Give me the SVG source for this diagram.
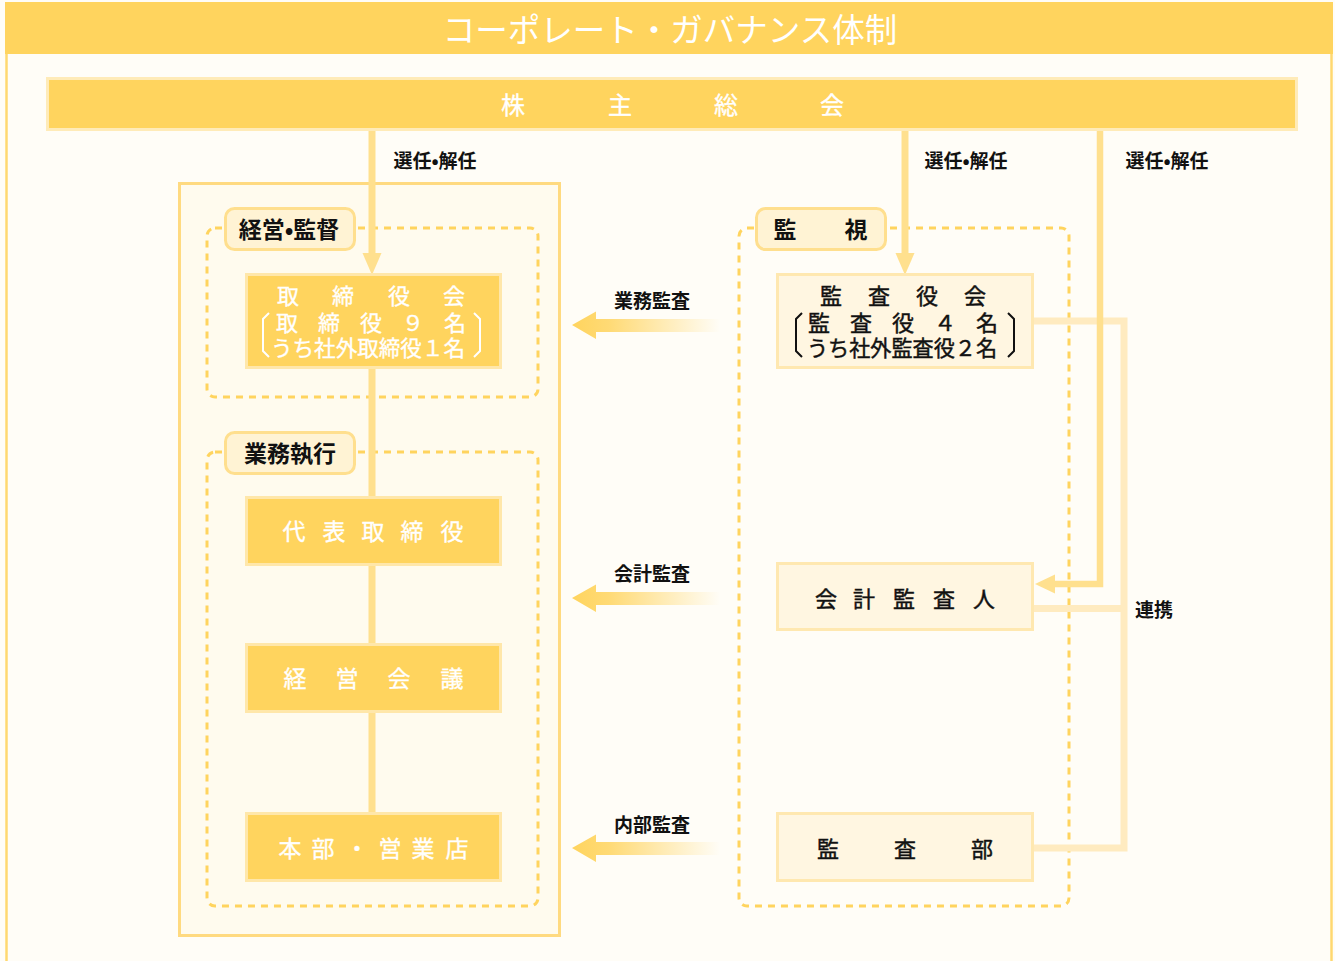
<svg xmlns="http://www.w3.org/2000/svg" width="1335" height="961" viewBox="0 0 1335 961">
<defs>
<style>
text { font-family: 'Noto Sans CJK JP', 'Noto Sans', sans-serif; dominant-baseline: central; text-anchor: middle; }
.title { fill: #fff; font-size: 32.5px; font-weight: normal; }
.w { fill: #fff; font-size: 22px; stroke: #fff; stroke-width: 0.35px; }
.k { fill: #111; font-size: 22px; stroke: #111; stroke-width: 0.45px; }
.lbl { fill: #111; font-size: 19px; font-weight: bold; }
.ptxt { fill: #111; font-size: 23px; font-weight: bold; }
.box { fill: #FFD45E; stroke: #FFE7AA; stroke-width: 3; }
.pbox { fill: #FFF6E1; stroke: #FFE8B0; stroke-width: 3; }
.dash { fill: none; stroke: #FFD45E; stroke-width: 3; stroke-dasharray: 7 6; }
.pill { fill: #FFF3D4; stroke: #FFDF8E; stroke-width: 3; }
.conn { stroke: #FFE08E; stroke-width: 7; fill: none; }
.head { fill: #FFE08E; }
.link { stroke: #FFEBC0; stroke-width: 7; fill: none; }
.brw { fill: none; stroke: #fff; stroke-width: 2; }
.brk { fill: none; stroke: #111; stroke-width: 2; }
.fade { fill: url(#fade); }
</style>
<linearGradient id="fade" x1="0" x2="1" y1="0" y2="0">
<stop offset="0" stop-color="#FFD45E"/>
<stop offset="0.25" stop-color="#FFD45E" stop-opacity="0.85"/>
<stop offset="1" stop-color="#FFD45E" stop-opacity="0"/>
</linearGradient>
</defs>

<rect x="0" y="0" width="1335" height="961" fill="#FFFDF7"/>
<g id="banner">
<rect x="5" y="2" width="1328" height="52" fill="#FFD45E"/>
<line x1="6.5" y1="54" x2="6.5" y2="961" stroke="#FFD870" stroke-width="2.5"/>
<line x1="1331.5" y1="54" x2="1331.5" y2="961" stroke="#FFD870" stroke-width="2.5"/>
<text class="title" x="670" y="27">コーポレート・ガバナンス体制</text>
</g>

<g id="shareholders">
<rect class="box" x="47.5" y="78.5" width="1249" height="51" style="stroke:#FFEBB8"/>
<text class="w" x="513 620 726 832" y="103" style="font-size:24px">株主総会</text>
</g>

<g id="left-frame">
<rect x="179.5" y="183.5" width="380" height="752" fill="#FFFBEE" stroke="#FFDA80" stroke-width="3"/>
</g>

<g id="group-kanri">
<rect class="dash" x="207" y="228" width="331" height="169" rx="8"/>
</g>
<g id="group-shikko">
<rect class="dash" x="207" y="452" width="331" height="454" rx="8"/>
</g>
<g id="group-kanshi">
<rect class="dash" x="739" y="228" width="330" height="678" rx="8"/>
</g>

<g id="connectors">
<path class="conn" d="M372,131 V256"/>
<polygon class="head" points="362.5,253 381.5,253 372,275"/>
<path class="conn" d="M905,131 V256"/>
<polygon class="head" points="895.5,253 914.5,253 905,275"/>
<path class="conn" d="M372,368 V497 M372,565 V644 M372,712 V813"/>
<path class="link" d="M1033,321 H1124 V848 H1033 M1033,608.5 H1124"/>
<path class="conn" d="M1100,131 V584 H1052" style="stroke-width:6.5"/>
<polygon class="head" points="1035,584 1055,574.5 1055,593.5"/>
<path class="fade" d="M572,325 L596,311.5 L596,319 L720,319 L720,332 L596,332 L596,339 Z"/>
<path class="fade" d="M572,598 L596,584.5 L596,592 L720,592 L720,605 L596,605 L596,612 Z"/>
<path class="fade" d="M572,848 L596,834.5 L596,842 L720,842 L720,855 L596,855 L596,862 Z"/>
<text class="lbl" x="435" y="159">選任•解任</text>
<text class="lbl" x="966" y="159">選任•解任</text>
<text class="lbl" x="1167" y="159">選任•解任</text>
<text class="lbl" x="652" y="299">業務監査</text>
<text class="lbl" x="652" y="572">会計監査</text>
<text class="lbl" x="652" y="823">内部監査</text>
<text class="lbl" x="1154" y="608">連携</text>
</g>

<g id="pill-kanri">
<rect class="pill" x="225.5" y="208.5" width="129" height="41" rx="9"/>
<text class="ptxt" x="289" y="228">経営•監督</text>
</g>
<g id="pill-shikko">
<rect class="pill" x="225.5" y="432.5" width="129" height="41" rx="9"/>
<text class="ptxt" x="290" y="451.5">業務執行</text>
</g>
<g id="pill-kanshi">
<rect class="pill" x="756.5" y="208.5" width="129" height="41" rx="9"/>
<text class="ptxt" x="785 856" y="228">監視</text>
</g>

<g id="board">
<rect class="box" x="246.5" y="274.5" width="254" height="93"/>
<text class="w" x="288 343 399 454" y="294">取締役会</text>
<text class="w" x="287 329 371 413 455" y="320.5">取締役９名</text>
<text class="w" x="368" y="346.5" textLength="194" lengthAdjust="spacingAndGlyphs" style="font-size:21.5px">うち社外取締役１名</text>
<path class="brw" d="M269,313 L263,319 V351 L269,357"/>
<path class="brw" d="M474,313 L480,319 V351 L474,357"/>
</g>

<g id="president">
<rect class="box" x="246.5" y="497.5" width="254" height="67"/>
<text class="w" x="294 334 373 412 452" y="529.5" style="font-size:23px">代表取締役</text>
</g>

<g id="mgmt-meeting">
<rect class="box" x="246.5" y="644.5" width="254" height="67"/>
<text class="w" x="295 347 399 452" y="676.5" style="font-size:23px">経営会議</text>
</g>

<g id="branches">
<rect class="box" x="246.5" y="813.5" width="254" height="67"/>
<text class="w" x="290 323 357 390 423 457" y="846.5" style="font-size:23px">本部・営業店</text>
</g>

<g id="auditors">
<rect class="pbox" x="777.5" y="274.5" width="255" height="93"/>
<text class="k" x="831 879 927 975" y="294">監査役会</text>
<text class="k" x="819 861 903 945 987" y="320.5">監査役４名</text>
<text class="k" x="902" y="346.5" textLength="190" lengthAdjust="spacingAndGlyphs" style="font-size:21.5px">うち社外監査役２名</text>
<path class="brk" d="M802,313 L796,319 V351 L802,357"/>
<path class="brk" d="M1008,313 L1014,319 V351 L1008,357"/>
</g>

<g id="accounting-auditor">
<rect class="pbox" x="777.5" y="563.5" width="255" height="66"/>
<text class="k" x="826 864 904 944 984" y="596.5">会計監査人</text>
</g>

<g id="audit-dept">
<rect class="pbox" x="777.5" y="813.5" width="255" height="67"/>
<text class="k" x="828 905 982" y="846.5">監査部</text>
</g>
</svg>
